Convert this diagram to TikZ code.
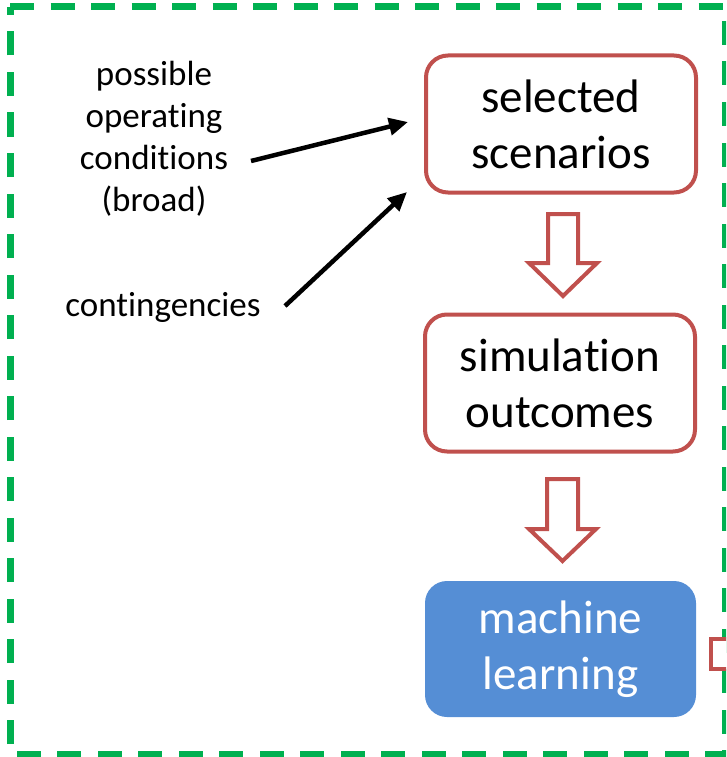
\documentclass[tikz,border=0pt]{standalone}
\usepackage{fontspec}
\setmainfont{Carlito}[Ligatures={NoCommon}]
\usetikzlibrary{arrows.meta}
\definecolor{grn}{HTML}{00B050}
\definecolor{redbox}{HTML}{C0504D}
\definecolor{bluebox}{HTML}{558ED5}
\tikzset{
  redbox/.style={draw=redbox, line width=4pt, rounded corners=22pt, fill=white,
    minimum width=270pt, minimum height=137pt, align=center, inner sep=0pt,
    font=\fontsize{47}{56}\selectfont},
  bluebox/.style={fill=bluebox, rounded corners=22pt, draw=none,
    minimum width=271pt, minimum height=136pt, align=center, inner sep=0pt,
    text=white, font=\fontsize{47}{56}\selectfont},
  lbl/.style={align=center, inner sep=0pt, font=\fontsize{35}{42}\selectfont},
  hollow/.style={draw=redbox, line width=4pt, fill=white, line join=miter},
  blk/.style={line width=4.5pt, -{Triangle[length=19pt,width=17pt]}},
}
\begin{document}
\begin{tikzpicture}[x=1pt,y=-1pt]
\useasboundingbox (0,0) rectangle (726,757);
\clip (0,0) rectangle (726,757);
% outer dashed frame
\draw[grn, line width=7pt, dash pattern=on 24pt off 16.5pt]
  (10,7) -- (725,7) -- (725,754) -- (10,754) -- cycle;
% boxes
\node[redbox] (sel) at (561,124) {selected\\scenarios};
\node[redbox] (sim) at (560,383) {simulation\\outcomes};
\node[bluebox] (ml) at (560.5,649) {machine\\learning};
% hollow down arrows
\draw[hollow] (548,214) -- (578,214) -- (578,263) -- (597,263) -- (563,296)
  -- (529,263) -- (548,263) -- cycle;
\draw[hollow] (547,479) -- (578,479) -- (578,529) -- (596,529) -- (562.5,561)
  -- (529,529) -- (547,529) -- cycle;
% partial hollow arrow at right edge
\draw[hollow] (711,639) rectangle (760,669);
% left labels
\node[lbl] (poc) at (154,139) {possible\\operating\\conditions\\(broad)};
\node[lbl] (cont) at (163,307) {contingencies};
\coordinate (a1s) at (251,161);
\coordinate (a1e) at (408,122);
\coordinate (a2s) at (285,306);
\coordinate (a2e) at (407,192);
\draw[blk] (a1s) -- (a1e);
\draw[blk] (a2s) -- (a2e);
\end{tikzpicture}
\end{document}
